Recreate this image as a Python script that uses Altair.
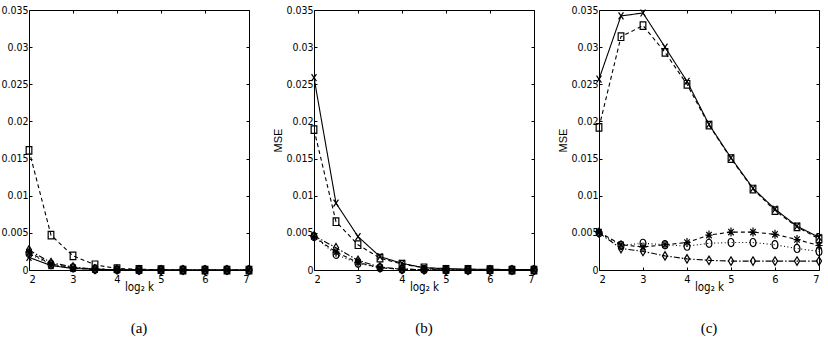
import altair as alt
import pandas as pd

# log2 k sample positions
K = [2, 2.5, 3, 3.5, 4, 4.5, 5, 5.5, 6, 6.5, 7]
SERIES = ["cross", "square", "circle", "diamond", "star"]

# panel (a)
A_CROSS = [0.0017, 0.0006, 0.0002, 0.0001, 0.00005, 0, 0, 0, 0, 0, 0]
A_SQUARE = [0.0161, 0.0047, 0.0019, 0.0007, 0.0002, 0.0001, 0.00005, 0, 0, 0, 0]
A_CIRCLE = [0.0022, 0.0007, 0.0003, 0.0001, 0.00005, 0, 0, 0, 0, 0, 0]
A_DIAMOND = [0.0027, 0.0010, 0.0004, 0.0001, 0.00005, 0, 0, 0, 0, 0, 0]
A_STAR = [0.0024, 0.0008, 0.0003, 0.0001, 0.00005, 0, 0, 0, 0, 0, 0]

# panel (b)
B_CROSS = [0.0259, 0.0090, 0.0045, 0.0018, 0.0009, 0.0003, 0.0002, 0.0001, 0.0001, 0.00005, 0.00005]
B_SQUARE = [0.0189, 0.0065, 0.0034, 0.0016, 0.0008, 0.0003, 0.0001, 0.0001, 0.00005, 0, 0]
B_CIRCLE = [0.0045, 0.0021, 0.0009, 0.0003, 0.0001, 0.00005, 0, 0, 0, 0, 0]
B_DIAMOND = [0.0046, 0.0030, 0.0013, 0.0004, 0.0001, 0.00005, 0, 0, 0, 0, 0]
B_STAR = [0.0045, 0.0024, 0.0010, 0.0003, 0.0001, 0.00005, 0, 0, 0, 0, 0]

# panel (c)
C_CROSS = [0.0257, 0.0342, 0.0346, 0.0300, 0.0254, 0.0196, 0.0151, 0.0110, 0.0082, 0.0059, 0.0044]
C_SQUARE = [0.0192, 0.0314, 0.0329, 0.0293, 0.0250, 0.0195, 0.0150, 0.0109, 0.0080, 0.0058, 0.0042]
C_CIRCLE = [0.0050, 0.0033, 0.0036, 0.0034, 0.0032, 0.0036, 0.0037, 0.0037, 0.0034, 0.0029, 0.0025]
C_DIAMOND = [0.0050, 0.0029, 0.0025, 0.0019, 0.0015, 0.0013, 0.0012, 0.0012, 0.0012, 0.0012, 0.0012]
C_STAR = [0.0051, 0.0034, 0.0031, 0.0034, 0.0037, 0.0047, 0.0051, 0.0051, 0.0048, 0.0041, 0.0033]

PANEL_LABELS = ["(a)", "(b)", "(c)"]
Y_TITLES = ["", "MSE", "MSE"]
X_TITLE = "log\u2082 k"
X_TICKS = [2, 3, 4, 5, 6, 7]
Y_TICKS = [0, 0.005, 0.01, 0.015, 0.02, 0.025, 0.03, 0.035]

PANEL_DATA = [
    [A_CROSS, A_SQUARE, A_CIRCLE, A_DIAMOND, A_STAR],
    [B_CROSS, B_SQUARE, B_CIRCLE, B_DIAMOND, B_STAR],
    [C_CROSS, C_SQUARE, C_CIRCLE, C_DIAMOND, C_STAR],
]

# line styles and marker glyphs per series
DASHES = [[1, 0], [4, 3], [1, 2.5], [6, 2, 1.5, 2], [4, 3]]
SHAPES = [
    "M-0.7,-1L0.7,1M-0.7,1L0.7,-1",
    "M-0.75,-1H0.75V1H-0.75Z",
    "M0,-1A0.72,1,0,1,1,0,1A0.72,1,0,1,1,0,-1Z",
    "M0,-1L0.6,0L0,1L-0.6,0Z",
    "M0,-1V1M-0.8,0H0.8M-0.6,-0.7L0.6,0.7M-0.6,0.7L0.6,-0.7",
]
SIZES = [49, 81, 100, 120, 64]

FONT = "DejaVu Sans Condensed, Liberation Sans"
W, H = 220, 260


def make_frame(values):
    rows = []
    for name, ys in zip(SERIES, values):
        for k, v in zip(K, ys):
            rows.append({"k": k, "mse": v, "series": name})
    return pd.DataFrame(rows)


def panel(values, label, ytitle):
    df = make_frame(values)
    xs = alt.Scale(domain=[2, 7], nice=False, zero=False)
    ys = alt.Scale(domain=[0, 0.035], nice=False)
    base = alt.Chart(df)

    x_main = alt.X(
        "k:Q", scale=xs,
        axis=alt.Axis(orient="bottom", values=X_TICKS, ticks=False, domain=False, grid=False,
                      labelFont=FONT, labelFontSize=11, labelColor="black", labelPadding=3,
                      title=X_TITLE, titleFont=FONT, titleFontSize=11.5, titleFontWeight="normal",
                      titleColor="black", titlePadding=-3),
    )
    y_axis_kw = dict(orient="left", values=Y_TICKS, ticks=False, domain=False, grid=False,
                     format="~g", labelFont=FONT, labelFontSize=10.5, labelColor="black",
                     labelPadding=1)
    if ytitle:
        y_axis_kw.update(title=ytitle, titleFont="Liberation Sans", titleFontSize=11,
                         titleFontWeight="normal", titleColor="black", titlePadding=2)
    else:
        y_axis_kw.update(title=None)
    y_main = alt.Y("mse:Q", scale=ys, axis=alt.Axis(**y_axis_kw))

    lines = base.mark_line(color="black", strokeWidth=1.1, clip=True).encode(
        x=x_main, y=y_main,
        strokeDash=alt.StrokeDash("series:N", scale=alt.Scale(domain=SERIES, range=DASHES), legend=None),
        detail="series:N",
    )
    points = base.mark_point(filled=False, color="black", strokeWidth=1.2, opacity=1).encode(
        x=alt.X("k:Q", scale=xs, axis=None), y=alt.Y("mse:Q", scale=ys, axis=None),
        shape=alt.Shape("series:N", scale=alt.Scale(domain=SERIES, range=SHAPES), legend=None),
        size=alt.Size("series:N", scale=alt.Scale(domain=SERIES, range=SIZES), legend=None),
    )

    # short inward ticks on all four sides of the box
    tick_kw = dict(labels=False, domain=False, grid=False, title=None, ticks=True,
                   tickSize=3, tickColor="black", tickWidth=1, offset=-3)
    ticks_tr = base.mark_point(opacity=0).encode(
        x=alt.X("k:Q", scale=xs, axis=alt.Axis(orient="top", values=X_TICKS, **tick_kw)),
        y=alt.Y("mse:Q", scale=ys, axis=alt.Axis(orient="right", values=Y_TICKS, **tick_kw)),
    )
    ticks_bl = base.mark_point(opacity=0).encode(
        x=alt.X("k:Q", scale=xs, axis=alt.Axis(orient="bottom", values=X_TICKS, **tick_kw)),
        y=alt.Y("mse:Q", scale=ys, axis=alt.Axis(orient="left", values=Y_TICKS, **tick_kw)),
    )

    return (
        alt.layer(lines, points, ticks_tr, ticks_bl)
        .resolve_axis(x="independent", y="independent")
        .properties(
            width=W, height=H,
            title=alt.TitleParams(label, orient="bottom", font="Liberation Serif", fontSize=15,
                                  fontWeight="normal", color="black", offset=28),
        )
    )


panels = [panel(v, l, t) for v, l, t in zip(PANEL_DATA, PANEL_LABELS, Y_TITLES)]

chart = (
    alt.hconcat(*panels, spacing=65, bounds="flush")
    .properties(padding={"left": 0, "top": 4, "right": 0, "bottom": 0}, background="white")
    .configure_view(stroke="black", strokeWidth=1)
)

chart.save("out.html", embed_options={"renderer": "svg", "actions": False})
